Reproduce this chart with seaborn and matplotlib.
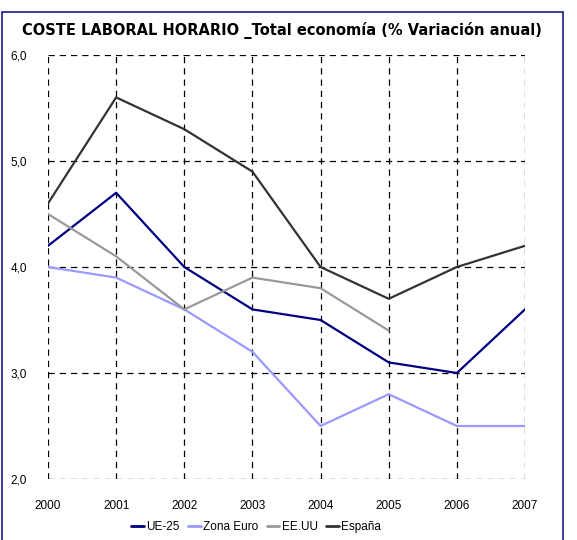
import matplotlib
matplotlib.use("Agg")
import matplotlib.pyplot as plt
import numpy as np
import pandas as pd
import seaborn as sns
from matplotlib.patches import Rectangle

# data
years = [2000, 2001, 2002, 2003, 2004, 2005, 2006, 2007]
ue25 = [4.2, 4.7, 4.0, 3.6, 3.5, 3.1, 3.0, 3.6]
zona_euro = [4.0, 3.9, 3.6, 3.2, 2.5, 2.8, 2.5, 2.5]
eeuu = [4.5, 4.1, 3.6, 3.9, 3.8, 3.4, np.nan, np.nan]
espana = [4.6, 5.6, 5.3, 4.9, 4.0, 3.7, 4.0, 4.2]

series = ["UE-25", "Zona Euro", "EE.UU", "España"]
colors = ["#000080", "#9999FF", "#999999", "#333333"]

df = pd.DataFrame({"Año": years, "UE-25": ue25, "Zona Euro": zona_euro,
                   "EE.UU": eeuu, "España": espana})
df_long = df.melt(id_vars="Año", var_name="Serie", value_name="Valor").dropna()

sns.set_style("white")
plt.rcParams['font.family'] = ['Liberation Sans', 'DejaVu Sans']
plt.rcParams['text.color'] = 'black'

fig = plt.figure(figsize=(5.77, 5.4), dpi=100)
ax = fig.add_axes([48/577, 1 - 479/540, 477/577, 424/540])

sns.lineplot(data=df_long, x="Año", y="Valor", hue="Serie", hue_order=series,
             palette=colors, linewidth=1.6, ax=ax, legend=False)

ax.set_xlim(2000, 2007)
ax.set_ylim(2.0, 6.0)
ax.set_xticks(years)
ax.set_yticks([2, 3, 4, 5, 6])
ax.set_yticklabels(["2,0", "3,0", "4,0", "5,0", "6,0"])
ax.tick_params(axis="both", length=0, labelsize=8.5, colors="black")
ax.tick_params(axis="x", pad=15)
ax.tick_params(axis="y", pad=15)
ax.set_xlabel("")
ax.set_ylabel("")
for s in ax.spines.values():
    s.set_visible(False)
ax.grid(True, color="black", linestyle=(0, (5, 4)), linewidth=0.9)
ax.set_axisbelow(True)

fig.text(282/577, 1 - 31/540, "COSTE LABORAL HORARIO _Total economía (% Variación anual)",
         ha="center", va="center", fontsize=10.5, fontweight="bold",
         color="black", family=["DejaVu Sans"])

handles = [plt.Line2D([], [], color=c, lw=2) for c in colors]
fig.legend(handles, series, loc="center", bbox_to_anchor=(256/577, 1 - 527/540),
           ncol=4, frameon=False, fontsize=8.5, handlelength=1.1,
           handletextpad=0.2, columnspacing=0.7, labelcolor="black")

fig.patches.append(Rectangle((2/577, -0.01), 561/577, 1 - 12/540 + 0.01,
                             transform=fig.transFigure, fill=False,
                             edgecolor="#1a1a8c", linewidth=1.2))

fig.savefig("out.png", dpi=100)
